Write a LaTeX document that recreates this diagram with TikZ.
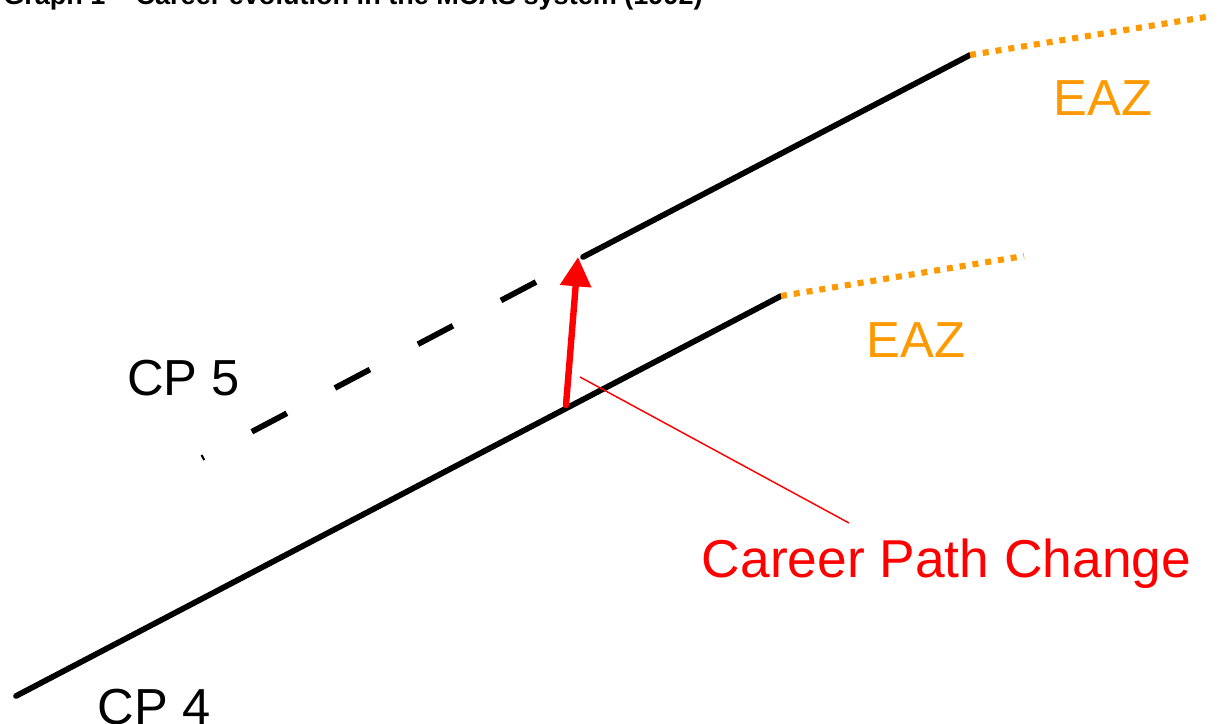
\documentclass[tikz,border=0pt]{standalone}
\usepackage{fontspec}
\setmainfont{Liberation Sans}
\usetikzlibrary{arrows.meta}
\definecolor{eazorange}{RGB}{255,153,0}
\definecolor{cpred}{RGB}{255,0,0}
\tikzset{
  careerline/.style={line width=4.3pt, black, line cap=round},
  dashline/.style={line width=4.3pt, black, dash pattern=on 29.7pt off 40.7pt},
  eazline/.style={line width=4.6pt, eazorange, dash pattern=on 4.5pt off 5.2pt},
  lbl/.style={inner sep=0pt, anchor=base, font=\fontsize{38}{44}\selectfont},
  eazlbl/.style={lbl, text=eazorange},
  redlbl/.style={lbl, text=cpred, font=\fontsize{40}{46}\selectfont},
  changearrow/.style={line width=4.8pt, cpred, line cap=round, -{Triangle[width=22.5pt,length=22pt]}},
  pointer/.style={line width=1.1pt, cpred}
}
\begin{document}
\begin{tikzpicture}[x=0.75pt,y=-0.75pt]
\useasboundingbox (0,0) rectangle (1218,724);
% title (cut at the top)
\node[inner sep=0pt, anchor=base west, font=\fontsize{20.3}{24}\selectfont\bfseries] (title) at (3,5) {Graph 1 -- Career evolution in the MCAS system (1992)};
% coordinates
\coordinate (a0) at (16,696);
\coordinate (a1) at (781,296);
\coordinate (a2) at (1024,256);
\coordinate (b0) at (583,257);
\coordinate (b1) at (970,55);
\coordinate (b2) at (1212,16);
\coordinate (d0) at (536,282);
\coordinate (d1) at (202,458);
\coordinate (r0) at (566,405);
\coordinate (r1) at (578,257);
\coordinate (p0) at (580,377);
\coordinate (p1) at (849,523);
% lines
\draw[careerline] (a0) -- (a1);
\draw[careerline] (b0) -- (b1);
\draw[dashline] (d0) -- (d1);
\draw[eazline] (a1) -- (a2);
\draw[eazline] (b1) -- (b2);
\draw[changearrow] (r0) -- (r1);
\draw[pointer] (p0) -- (p1);
% labels
\node[lbl] (cp5) at (183.5,395) {CP 5};
\node[lbl] (cp4) at (154,724) {CP 4};
\node[eazlbl] (eaz1) at (1103,116) {EAZ};
\node[eazlbl] (eaz2) at (916,357) {EAZ};
\node[redlbl] (cpc) at (946.5,577) {Career Path Change};
\end{tikzpicture}
\end{document}
